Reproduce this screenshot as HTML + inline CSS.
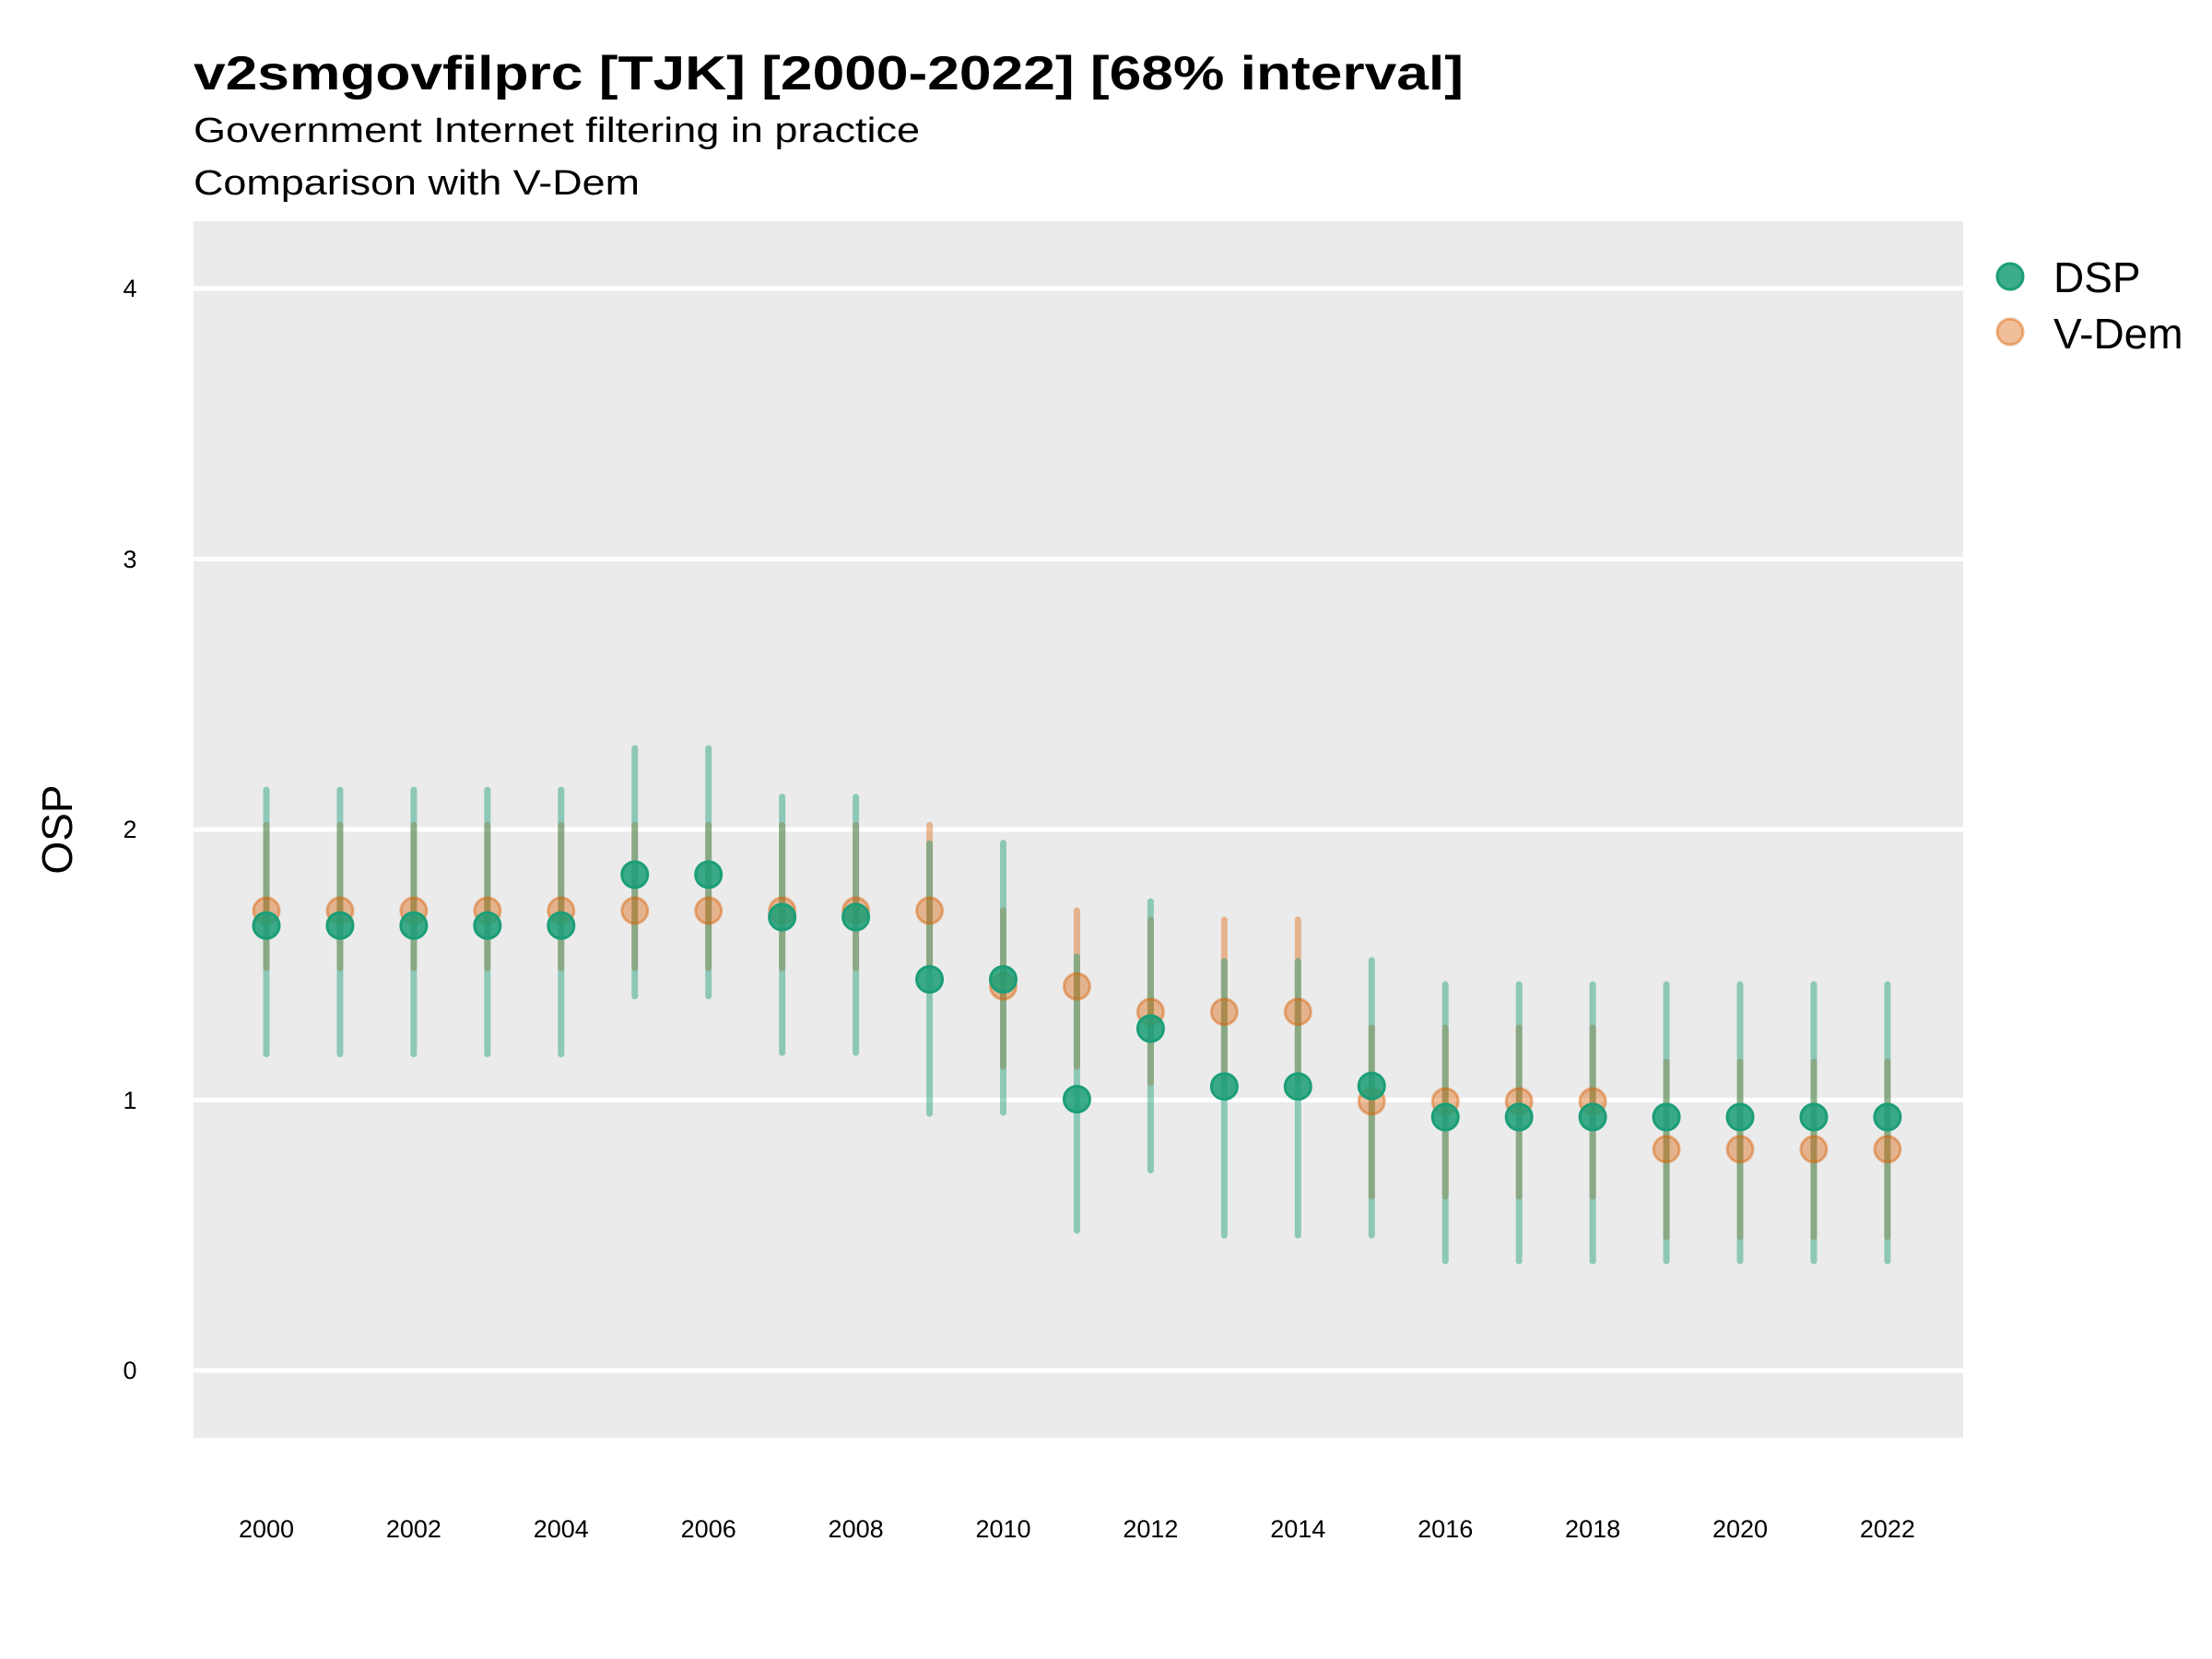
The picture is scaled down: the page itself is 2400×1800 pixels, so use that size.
<!DOCTYPE html>
<html><head><meta charset="utf-8"><style>
html,body{margin:0;padding:0;background:#fff;}
svg{display:block;font-family:"Liberation Sans",Arial,sans-serif;}
</style></head><body>
<svg xmlns="http://www.w3.org/2000/svg" width="2400" height="1800" viewBox="0 0 2400 1800">
<rect width="2400" height="1800" fill="#fff"/>
<text x="210" y="97" font-size="52" font-weight="bold" textLength="1378" lengthAdjust="spacingAndGlyphs">v2smgovfilprc [TJK] [2000-2022] [68% interval]</text>
<text x="210" y="154" font-size="38" textLength="788" lengthAdjust="spacingAndGlyphs">Government Internet filtering in practice</text>
<text x="210" y="211" font-size="38" textLength="484" lengthAdjust="spacingAndGlyphs">Comparison with V-Dem</text>
<rect x="210" y="240" width="1920" height="1320" fill="#ebebeb"/>
<g stroke="#fff" stroke-width="5">
<line x1="210" x2="2130" y1="1487" y2="1487"/>
<line x1="210" x2="2130" y1="1193.5" y2="1193.5"/>
<line x1="210" x2="2130" y1="900" y2="900"/>
<line x1="210" x2="2130" y1="606.5" y2="606.5"/>
<line x1="210" x2="2130" y1="313" y2="313"/>
</g>
<g font-size="27" text-anchor="middle">
<text x="141" y="1496">0</text>
<text x="141" y="1203">1</text>
<text x="141" y="909">2</text>
<text x="141" y="616">3</text>
<text x="141" y="322">4</text>
</g>
<text transform="translate(78,900) rotate(-90)" font-size="46" text-anchor="middle">OSP</text>
<g id="x" font-size="27" text-anchor="middle"></g>
<g id="lines" stroke-width="7" stroke-linecap="round"></g>
<g id="pts"></g>
<circle cx="2181" cy="300" r="14" fill="#1b9e77" fill-opacity="0.85" stroke="#1b9e77" stroke-width="3"/>
<circle cx="2181" cy="360" r="14" fill="#d95f02" fill-opacity="0.4" stroke="#d95f02" stroke-opacity="0.45" stroke-width="3"/>
<text x="2228" y="317" font-size="46">DSP</text>
<text x="2228" y="378" font-size="46">V-Dem</text>
<script>
var ns="http://www.w3.org/2000/svg";
function Y(v){return 1487-v*293.5;}
function X(yr){return 289+(yr-2000)*79.95;}
var d=[];
for(var i=0;i<=4;i++)d.push([1.645,1.17,2.146,1.70,1.488,2.016]);
d.push([1.833,1.384,2.30,1.70,1.488,2.016]);
d.push([1.833,1.384,2.30,1.70,1.488,2.016]);
d.push([1.676,1.175,2.12,1.70,1.488,2.016]);
d.push([1.676,1.175,2.12,1.70,1.488,2.016]);
d.push([1.446,0.95,1.948,1.70,1.488,2.016]);
d.push([1.446,0.954,1.95,1.42,1.124,1.70]);
d.push([1.003,0.518,1.53,1.42,1.124,1.70]);
d.push([1.264,0.74,1.734,1.326,1.063,1.666]);
d.push([1.05,0.50,1.513,1.326,1.07,1.666]);
d.push([1.05,0.50,1.513,1.326,1.07,1.666]);
d.push([1.052,0.50,1.516,0.995,0.644,1.267]);
for(var i=0;i<3;i++)d.push([0.937,0.405,1.427,0.995,0.644,1.267]);
for(var i=0;i<4;i++)d.push([0.937,0.405,1.427,0.818,0.494,1.141]);
var L=document.getElementById('lines'),P=document.getElementById('pts'),G=document.getElementById('x');
function el(t,a,p){var e=document.createElementNS(ns,t);for(var k in a)e.setAttribute(k,a[k]);p.appendChild(e);return e;}
d.forEach(function(r,i){
 var x=X(2000+i);
 el('line',{x1:x,x2:x,y1:Y(r[4]),y2:Y(r[5]),stroke:'#d95f02','stroke-opacity':0.4},L);
 el('line',{x1:x,x2:x,y1:Y(r[1]),y2:Y(r[2]),stroke:'#1b9e77','stroke-opacity':0.45},L);
 el('circle',{cx:x,cy:Y(r[3]),r:14,fill:'#d95f02','fill-opacity':0.4,stroke:'#d95f02','stroke-opacity':0.45,'stroke-width':3},P);
 el('circle',{cx:x,cy:Y(r[0]),r:14,fill:'#1b9e77','fill-opacity':0.85,stroke:'#1b9e77','stroke-width':3},P);
 if(i%2==0){var t=el('text',{x:x,y:1668},G);t.textContent=String(2000+i);}
});
</script>
</svg>
</body></html>
